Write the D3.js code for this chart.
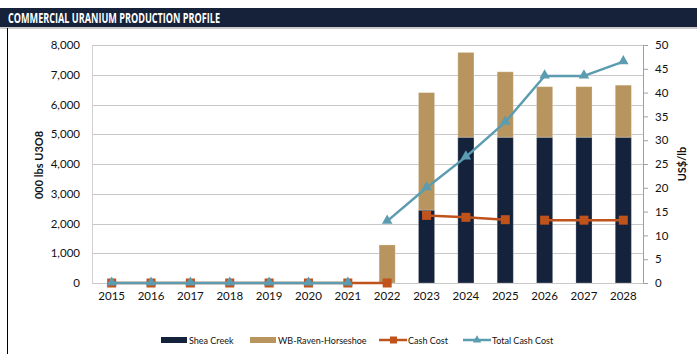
<!DOCTYPE html>
<html>
<head>
<meta charset="utf-8">
<script src="https://cdn.jsdelivr.net/npm/d3@7"></script>
<style>
  body { margin: 0; background: #fff; }
  svg { display: block; font-family: Lato, "Open Sans", sans-serif; }
</style>
</head>
<body>
<svg id="chart" width="697" height="354"></svg>
<script>
// Production profile by year (000 lbs U3O8) and unit costs (US$/lb)
const years = ["2015","2016","2017","2018","2019","2020","2021","2022","2023","2024","2025","2026","2027","2028"];
const sheaCreek = [0,0,0,0,0,0,0,0,2450,4900,4900,4900,4900,4900];
const wbRavenHorseshoe = [0,0,0,0,0,0,0,1280,3950,2850,2200,1700,1700,1750];
const cashCost = [0,0,0,0,0,0,0,0,14.2,13.8,13.3,13.2,13.2,13.2];
const totalCashCost = [0,0,0,0,0,0,0,13,20,26.5,33.8,43.5,43.5,46.5];
// years after which a series' connecting segment is not drawn
const cashCostBreaks = ["2022","2025"];
const totalCashCostBreaks = ["2021"];
const leftTicks = [0,1000,2000,3000,4000,5000,6000,7000,8000];
const rightTicks = [0,5,10,15,20,25,30,35,40,45,50];

const colors = {
  shea: "#15223b",
  wb: "#b8955f",
  cash: "#c0521c",
  total: "#5b9cb1",
  title: "#16223a",
  grid: "#c8c8c8"
};

const svg = d3.select("#chart");
const m = { left: 92, right: 643, top: 45, bottom: 283 };

// title bar
svg.append("rect").attr("x", 0).attr("y", 8).attr("width", 697).attr("height", 19).attr("fill", colors.title);
svg.append("line").attr("x1", 0).attr("x2", 697).attr("y1", 28).attr("y2", 28).attr("stroke", "#9a9a9a").attr("stroke-width", 1.2);
svg.append("text").attr("x", 8).attr("y", 22.5).attr("fill", "#fff")
  .attr("font-size", 13.5).attr("font-weight", "bold").attr("font-family", "'Open Sans', sans-serif")
  .attr("textLength", 212).attr("lengthAdjust", "spacingAndGlyphs")
  .text("COMMERCIAL URANIUM PRODUCTION PROFILE");
// frame edge
svg.append("line").attr("x1", 7.5).attr("x2", 7.5).attr("y1", 28).attr("y2", 354).attr("stroke", "#000").attr("stroke-width", 1);

const x = d3.scaleBand().domain(years).range([m.left, m.right]).paddingInner(0.59).paddingOuter(0.295);
const yL = d3.scaleLinear().domain([0, 8000]).range([m.bottom, m.top]);
const yR = d3.scaleLinear().domain([0, 50]).range([m.bottom, m.top]);
const xc = d => x(d) + x.bandwidth() / 2;

// gridlines
svg.append("g").selectAll("line").data(leftTicks).join("line")
  .attr("x1", m.left).attr("x2", m.right)
  .attr("y1", d => Math.round(yL(d)) + 0.5).attr("y2", d => Math.round(yL(d)) + 0.5)
  .attr("stroke", colors.grid).attr("stroke-width", 1);

// left axis
const axL = svg.append("g").attr("transform", `translate(${m.left},0)`)
  .call(d3.axisLeft(yL).tickValues(leftTicks).tickFormat(d3.format(",")).tickSize(0).tickPadding(12));
axL.select(".domain").attr("stroke", "#d0d0d0");
axL.selectAll("text").attr("font-size", 11.5).attr("fill", "#111").attr("font-family", "Lato, sans-serif");

// right axis
const axR = svg.append("g").attr("transform", `translate(${m.right},0)`)
  .call(d3.axisRight(yR).tickValues(rightTicks).tickSize(5).tickPadding(7));
axR.select(".domain").attr("stroke", "#a0a0a0");
axR.selectAll(".tick line").attr("stroke", "#a0a0a0");
axR.selectAll("text").attr("font-size", 11.5).attr("fill", "#111").attr("font-family", "Lato, sans-serif");

// x axis labels
svg.append("g").attr("transform", `translate(0,${m.bottom})`)
  .call(d3.axisBottom(x).tickSize(0).tickPadding(9))
  .call(g => g.select(".domain").remove())
  .selectAll("text").attr("font-size", 11.5).attr("fill", "#111").attr("font-family", "Lato, sans-serif");

// axis titles
svg.append("text").attr("transform", "translate(43,165) rotate(-90)").attr("text-anchor", "middle")
  .attr("font-size", 11).attr("font-weight", "bold").attr("fill", "#111").text("000 lbs U3O8");
svg.append("text").attr("transform", "translate(686,164) rotate(-90)").attr("text-anchor", "middle")
  .attr("font-size", 11).attr("font-weight", "bold").attr("fill", "#111").text("US$/lb");

// stacked bars
const rows = years.map((yr, i) => ({ year: yr, shea: sheaCreek[i], wb: wbRavenHorseshoe[i] }));
const stacked = d3.stack().keys(["shea", "wb"])(rows);
const barFill = { shea: colors.shea, wb: colors.wb };
svg.append("g").selectAll("g").data(stacked).join("g")
  .attr("fill", s => barFill[s.key])
  .selectAll("rect").data(s => s.filter(d => d[1] - d[0] > 0)).join("rect")
  .attr("x", d => x(d.data.year)).attr("width", x.bandwidth())
  .attr("y", d => yL(d[1])).attr("height", d => yL(d[0]) - yL(d[1]))
  .attr("stroke", "rgba(255,255,255,0.25)").attr("stroke-width", 1);

// line series with optional breaks
function drawSeries(values, breaks, color) {
  const pts = years.map((yr, i) => ({ year: yr, v: values[i] }));
  const segs = [];
  for (let i = 0; i < pts.length - 1; i++) {
    if (!breaks.includes(pts[i].year)) segs.push([pts[i], pts[i + 1]]);
  }
  const line = d3.line().x(d => xc(d.year)).y(d => yR(d.v));
  svg.append("g").selectAll("path").data(segs).join("path")
    .attr("d", line).attr("fill", "none").attr("stroke", color).attr("stroke-width", 2.5);
  return pts;
}

const cashPts = drawSeries(cashCost, cashCostBreaks, colors.cash);
svg.append("g").selectAll("rect").data(cashPts).join("rect")
  .attr("x", d => xc(d.year) - 4.5).attr("y", d => yR(d.v) - 4.5)
  .attr("width", 9).attr("height", 9).attr("fill", colors.cash);

const totalPts = drawSeries(totalCashCost, totalCashCostBreaks, colors.total);
const tri = d3.symbol().type(d3.symbolTriangle).size(48);
svg.append("g").selectAll("path").data(totalPts).join("path")
  .attr("transform", d => `translate(${xc(d.year)},${yR(d.v) - 0.5})`)
  .attr("d", tri).attr("fill", colors.total);

// legend
const lg = svg.append("g").attr("font-size", 9).attr("fill", "#111");
const ly = 340;
lg.append("rect").attr("x", 161).attr("y", ly - 3).attr("width", 26).attr("height", 6).attr("fill", colors.shea);
lg.append("text").attr("x", 189).attr("y", ly + 3.5).text("Shea Creek");
lg.append("rect").attr("x", 250).attr("y", ly - 3).attr("width", 26).attr("height", 6).attr("fill", colors.wb);
lg.append("text").attr("x", 278).attr("y", ly + 3.5).text("WB-Raven-Horseshoe");
lg.append("line").attr("x1", 379).attr("x2", 407).attr("y1", ly).attr("y2", ly).attr("stroke", colors.cash).attr("stroke-width", 2.5);
lg.append("rect").attr("x", 390).attr("y", ly - 3.5).attr("width", 7).attr("height", 7).attr("fill", colors.cash);
lg.append("text").attr("x", 408).attr("y", ly + 3.5).text("Cash Cost");
lg.append("line").attr("x1", 463).attr("x2", 491).attr("y1", ly).attr("y2", ly).attr("stroke", colors.total).attr("stroke-width", 2.5);
lg.append("path").attr("transform", `translate(477,${ly})`).attr("d", d3.symbol().type(d3.symbolTriangle).size(30)).attr("fill", colors.total);
lg.append("text").attr("x", 492).attr("y", ly + 3.5).text("Total Cash Cost");
</script>
</body>
</html>
